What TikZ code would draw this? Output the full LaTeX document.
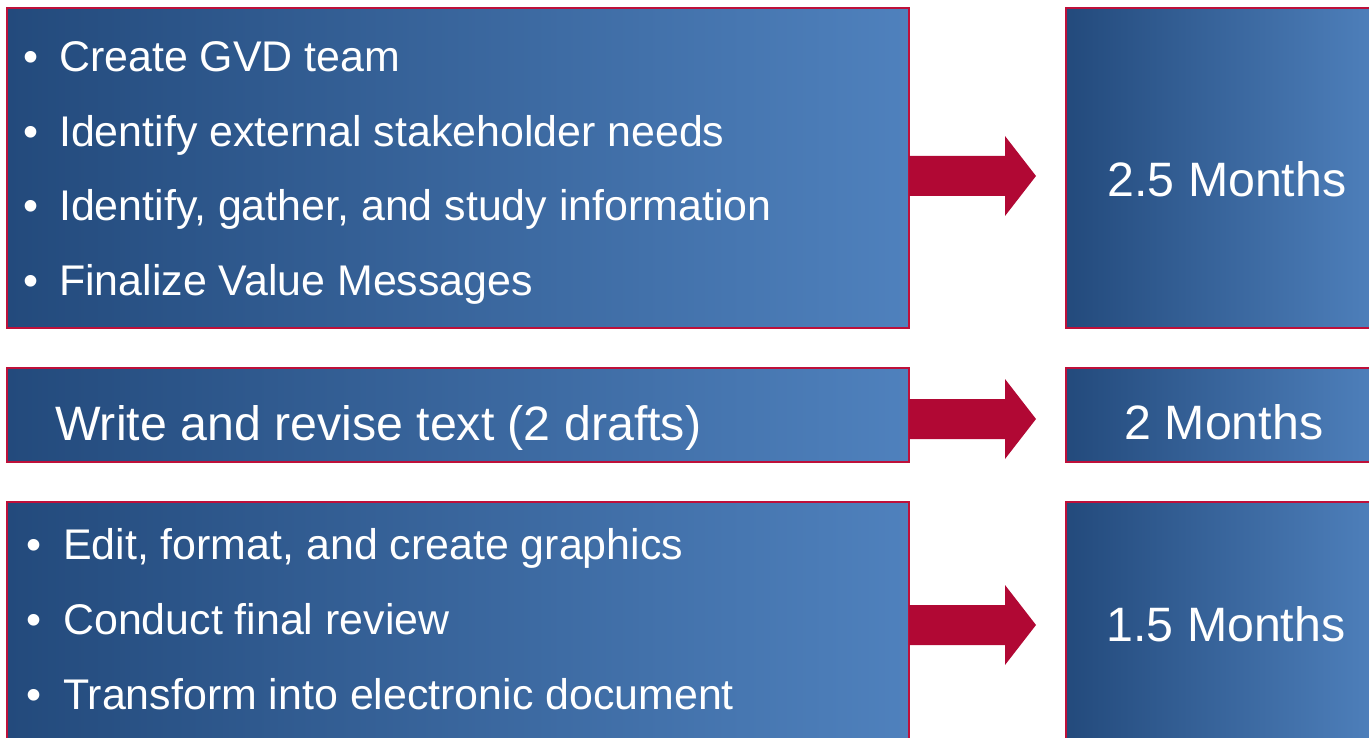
\documentclass[tikz,border=0pt]{standalone}
\usepackage{fontspec}
\setmainfont{Liberation Sans}
\usetikzlibrary{calc}
\definecolor{bdark}{RGB}{35,74,124}
\definecolor{blight}{RGB}{79,129,189}
\definecolor{edgec}{RGB}{190,16,58}
\definecolor{arrowc}{RGB}{177,8,52}
\tikzset{
  box/.style={draw=edgec, line width=2pt, left color=bdark, right color=blight,
    anchor=north west, inner sep=0pt, outer sep=0pt},
  itemtxt/.style={text=white, anchor=base west, inner sep=0pt, font=\fontsize{42.9}{50}\selectfont},
  bul/.style={text=white, anchor=base west, inner sep=0pt, font=\fontsize{42.9}{50}\selectfont},
  midtxt/.style={text=white, anchor=base west, inner sep=0pt, font=\fontsize{48.3}{56}\selectfont},
  durtxt/.style={text=white, anchor=base, inner sep=0pt, font=\fontsize{48.3}{56}\selectfont},
  blockarrow/.style={fill=arrowc, draw=none}
}
\newcommand\blockarr[2]{%
  \fill[blockarrow] ($(#1)+(0,-20)$) -- ($(#2)+(-31,-20)$) -- ($(#2)+(-31,-40)$) -- (#2)
    -- ($(#2)+(-31,40)$) -- ($(#2)+(-31,20)$) -- ($(#1)+(0,20)$) -- cycle;}
\begin{document}
\begin{tikzpicture}[x=1pt,y=-1pt]
\useasboundingbox (0,0) rectangle (1369,738);
\clip (0,0) rectangle (1369,738);
% left boxes
\node[box, minimum width=902pt, minimum height=320pt] (b1) at (7,8) {};
\node[box, minimum width=902pt, minimum height=94pt] (b2) at (7,368) {};
\node[box, minimum width=902pt, minimum height=270pt] (b3) at (7,502) {};
% right boxes
\node[box, minimum width=318pt, minimum height=320pt] (r1) at (1066,8) {};
\node[box, minimum width=318pt, minimum height=94pt] (r2) at (1066,368) {};
\node[box, minimum width=318pt, minimum height=270pt] (r3) at (1066,502) {};
% box 1 text
\node[bul] (p11) at (23,72) {•};
\node[itemtxt] (l11) at (59,72) {Create GVD team};
\node[bul] (p12) at (23,147) {•};
\node[itemtxt] (l12) at (59,147) {Identify external stakeholder needs};
\node[bul] (p13) at (23,221) {•};
\node[itemtxt] (l13) at (59,221) {Identify, gather, and study information};
\node[bul] (p14) at (23,296) {•};
\node[itemtxt] (l14) at (59,296) {Finalize Value Messages};
% box 2 text
\node[midtxt] (l21) at (55,440) {Write and revise text (2 drafts)};
% box 3 text
\node[bul] (p31) at (26,559) {•};
\node[itemtxt] (l31) at (63,559) {Edit, format, and create graphics};
\node[bul] (p32) at (26,634) {•};
\node[itemtxt] (l32) at (63,634) {Conduct final review};
\node[bul] (p33) at (26,709) {•};
\node[itemtxt] (l33) at (63,709) {Transform into electronic document};
% durations
\node[durtxt] (d1) at (1227,197) {2.5 Months};
\node[durtxt] (d2) at (1224,439) {2 Months};
\node[durtxt] (d3) at (1226,641) {1.5 Months};
% arrows
\coordinate (t1) at (1036,176);
\coordinate (t2) at (1036,419);
\coordinate (t3) at (1036,625);
\coordinate (s1) at (b1.east |- t1);
\coordinate (s2) at (b2.east |- t2);
\coordinate (s3) at (b3.east |- t3);
\blockarr{s1}{t1}
\blockarr{s2}{t2}
\blockarr{s3}{t3}
\end{tikzpicture}
\end{document}
